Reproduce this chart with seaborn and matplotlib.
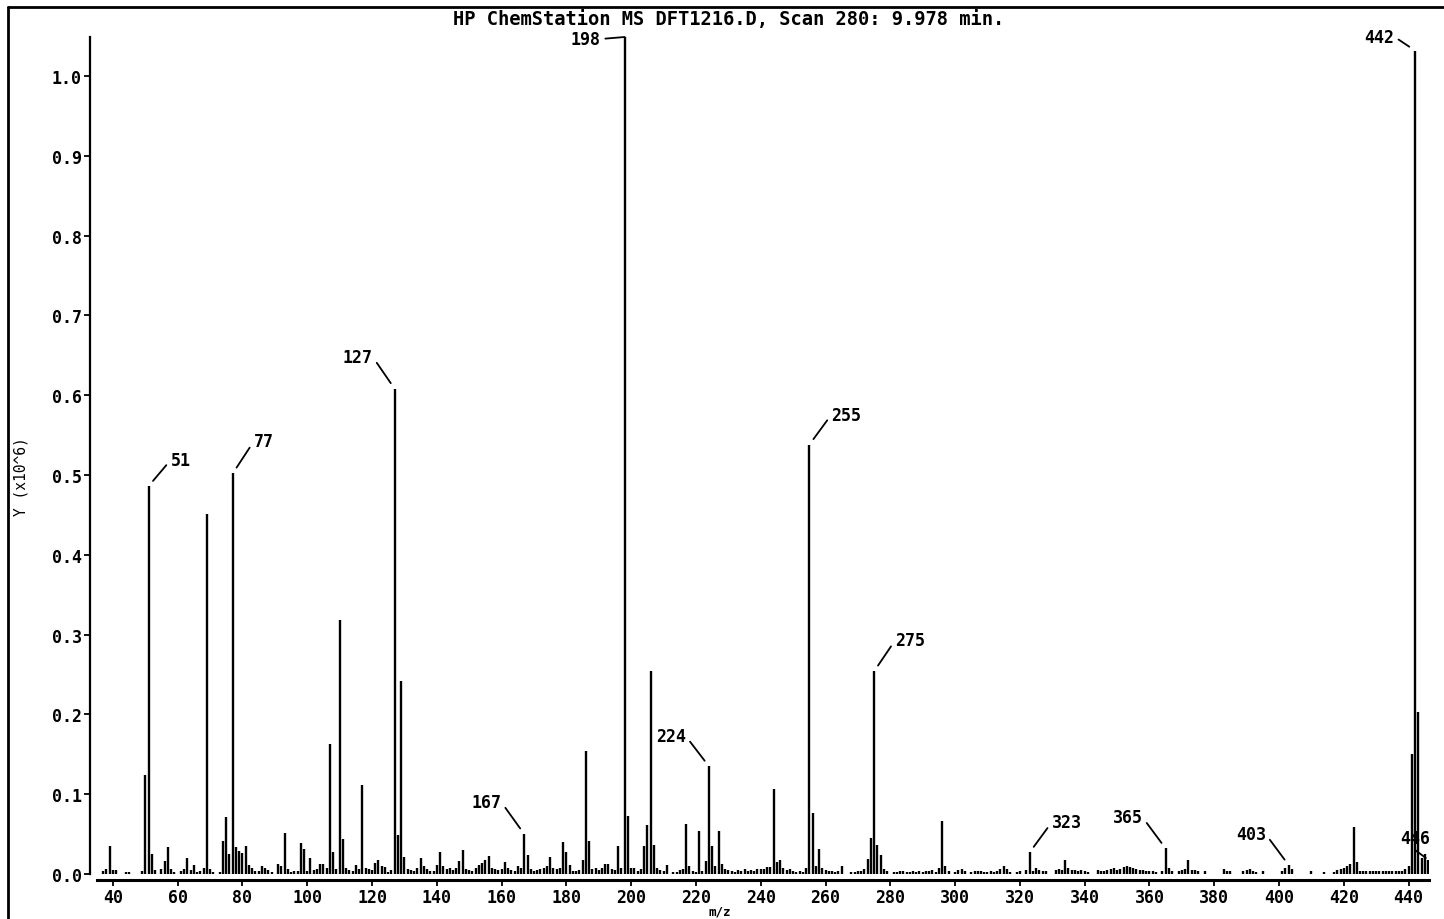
import numpy as np
import matplotlib
matplotlib.use("Agg")
import matplotlib.pyplot as plt
from matplotlib.lines import Line2D
import seaborn as sns

# ---------------- data ----------------
mz = [37, 38, 39, 40, 41, 44, 45, 49, 50, 51, 52, 53, 55, 56, 57, 58, 59, 61, 62, 63,
      64, 65, 66, 67, 68, 69, 70, 71, 73, 74, 75, 76, 77, 78, 79, 80, 81, 82, 83, 84,
      85, 86, 87, 88, 89, 91, 92, 93, 94, 95, 96, 97, 98, 99, 100, 101, 102, 103, 104, 105,
      106, 107, 108, 109, 110, 111, 112, 113, 114, 115, 116, 117, 118, 119, 120, 121, 122, 123, 124, 125,
      126, 127, 128, 129, 130, 131, 132, 133, 134, 135, 136, 137, 138, 139, 140, 141, 142, 143, 144, 145,
      146, 147, 148, 149, 150, 151, 152, 153, 154, 155, 156, 157, 158, 159, 160, 161, 162, 163, 164, 165,
      166, 167, 168, 169, 170, 171, 172, 173, 174, 175, 176, 177, 178, 179, 180, 181, 182, 183, 184, 185,
      186, 187, 188, 189, 190, 191, 192, 193, 194, 195, 196, 197, 198, 199, 200, 201, 202, 203, 204, 205,
      206, 207, 208, 209, 210, 211, 213, 214, 215, 216, 217, 218, 219, 220, 221, 222, 223, 224, 225, 226,
      227, 228, 229, 230, 231, 232, 233, 234, 235, 236, 237, 238, 239, 240, 241, 242, 243, 244, 245, 246,
      247, 248, 249, 250, 251, 252, 253, 254, 255, 256, 257, 258, 259, 260, 261, 262, 263, 264, 265, 268,
      269, 270, 271, 272, 273, 274, 275, 276, 277, 278, 279, 281, 282, 283, 284, 285, 286, 287, 288, 289,
      290, 291, 292, 293, 294, 295, 296, 297, 298, 300, 301, 302, 303, 305, 306, 307, 308, 309, 310, 311,
      312, 313, 314, 315, 316, 317, 319, 320, 322, 323, 324, 325, 326, 327, 328, 331, 332, 333, 334, 335,
      336, 337, 338, 339, 340, 341, 344, 345, 346, 347, 348, 349, 350, 351, 352, 353, 354, 355, 356, 357,
      358, 359, 360, 361, 362, 364, 365, 366, 367, 369, 370, 371, 372, 373, 374, 375, 377, 383, 384, 385,
      389, 390, 391, 392, 393, 395, 401, 402, 403, 404, 410, 414, 417, 418, 419, 420, 421, 422, 423, 424,
      425, 426, 427, 428, 429, 430, 431, 432, 433, 434, 435, 436, 437, 438, 439, 440, 441, 442, 443, 444,
      445, 446]

intensity = [0.004, 0.006, 0.035, 0.005, 0.005, 0.003, 0.003, 0.004, 0.124, 0.486, 0.025, 0.005, 0.006, 0.016, 0.034, 0.006, 0.003, 0.004, 0.006, 0.020,
             0.005, 0.011, 0.003, 0.004, 0.008, 0.451, 0.006, 0.003, 0.003, 0.041, 0.072, 0.025, 0.502, 0.034, 0.029, 0.026, 0.035, 0.011, 0.008, 0.004,
             0.004, 0.010, 0.007, 0.005, 0.003, 0.012, 0.010, 0.052, 0.006, 0.003, 0.004, 0.004, 0.039, 0.031, 0.004, 0.020, 0.005, 0.006, 0.013, 0.013,
             0.007, 0.163, 0.027, 0.006, 0.318, 0.044, 0.008, 0.005, 0.004, 0.011, 0.006, 0.111, 0.008, 0.006, 0.005, 0.014, 0.018, 0.010, 0.009, 0.003,
             0.005, 0.608, 0.049, 0.242, 0.021, 0.006, 0.005, 0.004, 0.008, 0.020, 0.010, 0.006, 0.004, 0.004, 0.011, 0.027, 0.010, 0.006, 0.008, 0.005,
             0.008, 0.016, 0.030, 0.006, 0.005, 0.004, 0.008, 0.011, 0.014, 0.018, 0.022, 0.007, 0.006, 0.005, 0.006, 0.015, 0.008, 0.005, 0.004, 0.010,
             0.008, 0.050, 0.024, 0.006, 0.004, 0.005, 0.006, 0.008, 0.010, 0.021, 0.008, 0.006, 0.008, 0.040, 0.028, 0.011, 0.004, 0.004, 0.005, 0.018,
             0.154, 0.041, 0.006, 0.008, 0.005, 0.008, 0.013, 0.013, 0.006, 0.005, 0.035, 0.008, 1.060, 0.073, 0.008, 0.008, 0.004, 0.006, 0.035, 0.061,
             0.254, 0.036, 0.008, 0.005, 0.004, 0.011, 0.002, 0.003, 0.005, 0.006, 0.063, 0.010, 0.004, 0.003, 0.054, 0.004, 0.016, 0.135, 0.035, 0.010,
             0.054, 0.012, 0.006, 0.005, 0.004, 0.003, 0.005, 0.004, 0.006, 0.004, 0.005, 0.004, 0.006, 0.006, 0.006, 0.009, 0.009, 0.106, 0.015, 0.018,
             0.007, 0.005, 0.006, 0.004, 0.003, 0.004, 0.003, 0.008, 0.538, 0.076, 0.010, 0.031, 0.008, 0.005, 0.004, 0.004, 0.003, 0.004, 0.010, 0.002,
             0.003, 0.004, 0.004, 0.006, 0.019, 0.045, 0.254, 0.036, 0.024, 0.006, 0.004, 0.002, 0.003, 0.004, 0.004, 0.003, 0.003, 0.004, 0.003, 0.004,
             0.003, 0.004, 0.004, 0.005, 0.003, 0.008, 0.067, 0.010, 0.004, 0.003, 0.005, 0.006, 0.004, 0.002, 0.004, 0.004, 0.004, 0.003, 0.003, 0.004,
             0.003, 0.004, 0.006, 0.010, 0.006, 0.003, 0.003, 0.004, 0.005, 0.027, 0.004, 0.007, 0.005, 0.004, 0.004, 0.005, 0.006, 0.005, 0.017, 0.007,
             0.005, 0.005, 0.004, 0.005, 0.004, 0.003, 0.005, 0.004, 0.004, 0.005, 0.006, 0.008, 0.005, 0.006, 0.009, 0.010, 0.009, 0.007, 0.006, 0.005,
             0.005, 0.004, 0.004, 0.004, 0.003, 0.004, 0.032, 0.008, 0.004, 0.004, 0.005, 0.006, 0.017, 0.005, 0.005, 0.004, 0.004, 0.006, 0.004, 0.004,
             0.004, 0.005, 0.006, 0.004, 0.003, 0.004, 0.004, 0.008, 0.011, 0.006, 0.004, 0.003, 0.003, 0.005, 0.006, 0.008, 0.010, 0.013, 0.059, 0.015,
             0.004, 0.004, 0.004, 0.004, 0.004, 0.004, 0.004, 0.004, 0.004, 0.004, 0.004, 0.004, 0.004, 0.004, 0.006, 0.010, 0.150, 1.032, 0.203, 0.020,
             0.025, 0.018]

label_mz = [51, 77, 127, 198, 255, 275, 224, 167, 323, 365, 403, 442, 446]
x_ticks = list(range(40, 441, 20))
y_ticks = [0.0, 0.1, 0.2, 0.3, 0.4, 0.5, 0.6, 0.7, 0.8, 0.9, 1.0]

title = "HP ChemStation MS DFT1216.D, Scan 280: 9.978 min."
x_label = "m/z"
y_label = "Y (x10^6)"

# ---------------- styling ----------------
sns.set_theme(style="ticks")
FONT = ["DejaVu Sans Mono"]
plt.rcParams["font.family"] = FONT
plt.rcParams["font.weight"] = "bold"
plt.rcParams["text.color"] = "black"
plt.rcParams["axes.labelcolor"] = "black"

W, H = 1444, 920
fig = plt.figure(figsize=(W / 100, H / 100), dpi=100)
fig.patch.set_facecolor("white")

ax_left, ax_right, ax_bot, ax_top = 97, 1429, 875, 38
ax = fig.add_axes([ax_left / W, 1 - ax_bot / H, (ax_right - ax_left) / W, (ax_bot - ax_top) / H])
ax.set_facecolor("white")

spec = dict(zip(mz, intensity))
ax.vlines(mz, 0, intensity, colors="black", linewidth=1.7)

ax.set_xlim(35.1, 446.3)
ax.set_ylim(0, 1.049)

ax.set_xticks(x_ticks)
ax.set_xticklabels([str(t) for t in x_ticks])
ax.set_yticks(y_ticks)
ax.set_yticklabels([f"{t:.1f}" for t in y_ticks])

for s in ["top", "right"]:
    ax.spines[s].set_visible(False)
ax.spines["left"].set_position(("outward", 5))
ax.spines["bottom"].set_position(("outward", 4))
ax.spines["left"].set_linewidth(1.6)
ax.spines["bottom"].set_linewidth(2.2)
ax.spines["left"].set_color("black")
ax.spines["bottom"].set_color("black")

ax.tick_params(axis="both", direction="out", length=4, width=1.3, colors="black",
               labelsize=12, pad=2)
for lab in ax.get_xticklabels() + ax.get_yticklabels():
    lab.set_fontweight("bold")
    lab.set_color("black")

ax.set_xlabel(x_label, fontsize=9, fontweight="bold", color="black")
ax.xaxis.set_label_coords((720 - ax_left) / (ax_right - ax_left), (ax_bot - 906) / (ax_bot - ax_top))
ax.set_ylabel(y_label, fontsize=10.5, fontweight="normal", color="black")
ax.yaxis.set_label_coords((29 - ax_left) / (ax_right - ax_left), (ax_bot - 477) / (ax_bot - ax_top))

fig.text(729 / W, 1 - 20 / H, title, ha="center", va="center", fontsize=13.5,
         fontweight="bold", family=FONT, color="black")

# peak labels with leader lines (offsets in pixels)
offsets = {51: (22, 26, "left"), 77: (21, 32, "left"), 127: (-22, 32, "right"),
           198: (-24, -2, "right"), 255: (22, 30, "left"), 275: (21, 31, "left"),
           224: (-23, 30, "right"), 167: (-23, 32, "right"), 323: (22, 30, "left"),
           365: (-23, 31, "right"), 403: (-23, 31, "right"), 442: (-21, 14, "right"),
           446: (2, 22, "right")}
for m in label_mz:
    dx, dy, ha = offsets[m]
    yv = min(spec[m], 1.049)
    relx = 0.0 if ha == "left" else 1.0
    shrinkB = 0 if m in (198,) else 5
    if m == 446:
        ap = dict(arrowstyle="-", color="black", lw=1.3, shrinkA=0, shrinkB=2, relpos=(0.35, 0.0))
    else:
        ap = dict(arrowstyle="-", color="black", lw=1.3, shrinkA=1, shrinkB=shrinkB, relpos=(relx, 0.5))
    ax.annotate(str(m), xy=(m, yv), xytext=(dx, dy), textcoords="offset pixels",
                ha=ha, va="center", fontsize=12, fontweight="bold", family=FONT,
                color="black", arrowprops=ap, annotation_clip=False)

# outer frame (left and top edges visible in the reference)
fig.add_artist(Line2D([8 / W, 8 / W], [0, 1 - 8 / H], transform=fig.transFigure, color="black", lw=2))
fig.add_artist(Line2D([8 / W, 1], [1 - 8 / H, 1 - 8 / H], transform=fig.transFigure, color="black", lw=2))

fig.savefig("out.png", dpi=100, facecolor="white")
